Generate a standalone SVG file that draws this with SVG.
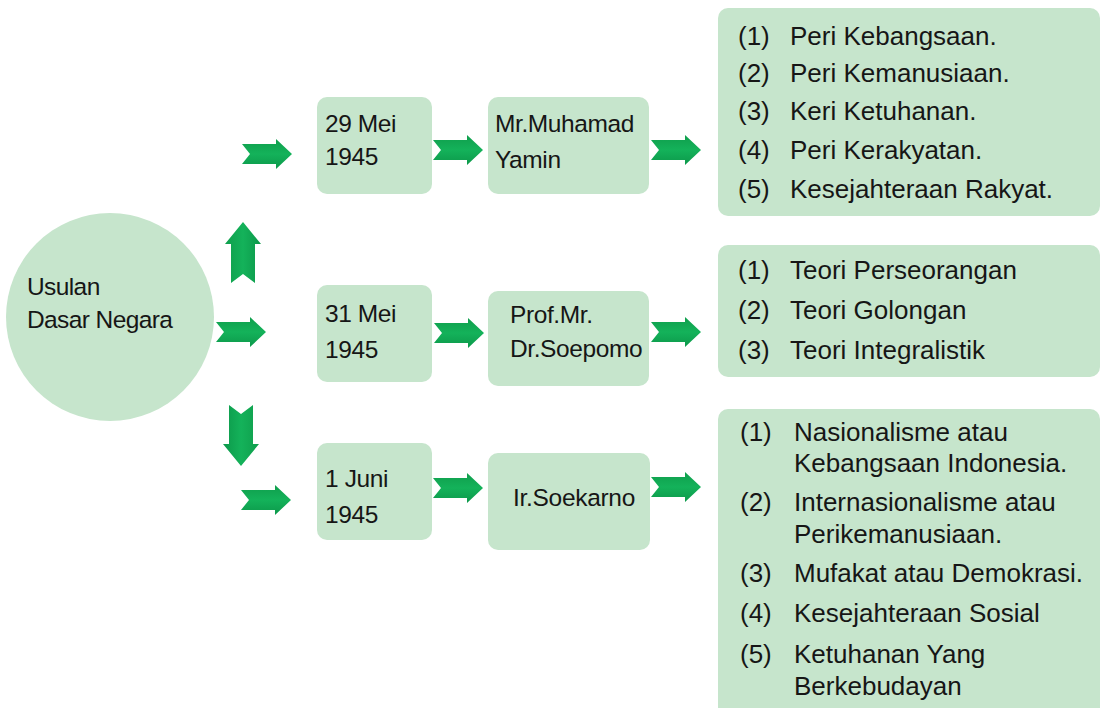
<svg xmlns="http://www.w3.org/2000/svg" xmlns:xlink="http://www.w3.org/1999/xlink" width="1102" height="708" viewBox="0 0 1102 708">
<style>
.box{fill:#c6e5cc}
.t{font-family:"Liberation Sans",Arial,sans-serif;font-size:24.5px;fill:#161616}
.l{font-family:"Liberation Sans",Arial,sans-serif;font-size:26px;fill:#161616}
.arr{fill:url(#g)}
.arrv{fill:url(#gv)}
</style>
<defs>
<linearGradient id="g" x1="0" y1="0" x2="0" y2="1">
<stop offset="0" stop-color="#0f9e4c"/>
<stop offset="0.5" stop-color="#14b25a"/>
<stop offset="1" stop-color="#0c984a"/>
</linearGradient>
<linearGradient id="gv" x1="0" y1="0" x2="1" y2="0">
<stop offset="0" stop-color="#0f9e4c"/>
<stop offset="0.5" stop-color="#14b25a"/>
<stop offset="1" stop-color="#0c984a"/>
</linearGradient>
<path id="ar" d="M0,-10 L34,-10 L34,-15 L50,0 L34,15 L34,10 L0,10 L8,0 Z"/>
<path id="au" d="M-12,0 L-12,-39 L-18,-39 L0,-61 L18,-39 L12,-39 L12,0 L0,-9 Z"/>
</defs>
<rect width="1102" height="708" fill="#ffffff"/>

<g id="usulan">
<circle cx="110" cy="317" r="104" class="box"/>
<text class="t" x="27" y="295" letter-spacing="-0.6">Usulan</text>
<text class="t" x="27" y="328" letter-spacing="-0.6">Dasar Negara</text>
</g>

<g id="date1">
<rect x="317" y="97" width="115" height="97" rx="10" class="box"/>
<text class="t" x="325" y="132" letter-spacing="-0.4">29 Mei</text>
<text class="t" x="325" y="165" letter-spacing="-0.4">1945</text>
</g>
<g id="date2">
<rect x="317" y="285" width="115" height="97" rx="10" class="box"/>
<text class="t" x="325" y="322" letter-spacing="-0.4">31 Mei</text>
<text class="t" x="325" y="358" letter-spacing="-0.4">1945</text>
</g>
<g id="date3">
<rect x="317" y="443" width="115" height="97" rx="10" class="box"/>
<text class="t" x="325" y="487" letter-spacing="-0.4">1 Juni</text>
<text class="t" x="325" y="523" letter-spacing="-0.4">1945</text>
</g>

<g id="yamin">
<rect x="488" y="97" width="161" height="97" rx="10" class="box"/>
<text class="t" x="495" y="132" letter-spacing="-0.4">Mr.Muhamad</text>
<text class="t" x="495" y="168" letter-spacing="-0.4">Yamin</text>
</g>
<g id="soepomo">
<rect x="488" y="291" width="161" height="95" rx="10" class="box"/>
<text class="t" x="510" y="323" letter-spacing="-0.4">Prof.Mr.</text>
<text class="t" x="510" y="357" letter-spacing="-0.4">Dr.Soepomo</text>
</g>
<g id="soekarno">
<rect x="488" y="453" width="162" height="97" rx="10" class="box"/>
<text class="t" x="513" y="506" font-size="26" letter-spacing="-0.3">Ir.Soekarno</text>
</g>

<g id="list1">
<rect x="718" y="8" width="382" height="208" rx="10" class="box"/>
<text class="l" x="738" y="45">(1)</text><text class="l" x="790" y="45">Peri Kebangsaan.</text>
<text class="l" x="738" y="82">(2)</text><text class="l" x="790" y="82">Peri Kemanusiaan.</text>
<text class="l" x="738" y="120">(3)</text><text class="l" x="790" y="120">Keri Ketuhanan.</text>
<text class="l" x="738" y="159">(4)</text><text class="l" x="790" y="159">Peri Kerakyatan.</text>
<text class="l" x="738" y="198">(5)</text><text class="l" x="790" y="198">Kesejahteraan Rakyat.</text>
</g>
<g id="list2">
<rect x="718" y="245" width="382" height="132" rx="10" class="box"/>
<text class="l" x="738" y="279">(1)</text><text class="l" x="790" y="279">Teori Perseorangan</text>
<text class="l" x="738" y="319">(2)</text><text class="l" x="790" y="319">Teori Golongan</text>
<text class="l" x="738" y="359">(3)</text><text class="l" x="790" y="359">Teori Integralistik</text>
</g>
<g id="list3">
<rect x="718" y="409" width="382" height="320" rx="10" class="box"/>
<text class="l" x="740" y="441">(1)</text><text class="l" x="794" y="441">Nasionalisme atau</text>
<text class="l" x="794" y="472">Kebangsaan Indonesia.</text>
<text class="l" x="740" y="511">(2)</text><text class="l" x="794" y="511">Internasionalisme atau</text>
<text class="l" x="794" y="543">Perikemanusiaan.</text>
<text class="l" x="740" y="582">(3)</text><text class="l" x="794" y="582">Mufakat atau Demokrasi.</text>
<text class="l" x="740" y="622">(4)</text><text class="l" x="794" y="622">Kesejahteraan Sosial</text>
<text class="l" x="740" y="663">(5)</text><text class="l" x="794" y="663">Ketuhanan Yang</text>
<text class="l" x="794" y="695">Berkebudayan</text>
</g>

<g id="connectors">
<use xlink:href="#au" class="arrv" x="243" y="283"/>
<use xlink:href="#au" class="arrv" transform="translate(241,405) rotate(180)"/>
<use xlink:href="#ar" class="arr" x="242" y="154"/>
<use xlink:href="#ar" class="arr" x="216" y="332"/>
<use xlink:href="#ar" class="arr" x="241" y="500"/>
<use xlink:href="#ar" class="arr" x="433" y="150"/>
<use xlink:href="#ar" class="arr" x="434" y="333"/>
<use xlink:href="#ar" class="arr" x="433" y="488"/>
<use xlink:href="#ar" class="arr" x="651" y="150"/>
<use xlink:href="#ar" class="arr" x="651" y="332"/>
<use xlink:href="#ar" class="arr" x="651" y="487"/>
</g>
</svg>
